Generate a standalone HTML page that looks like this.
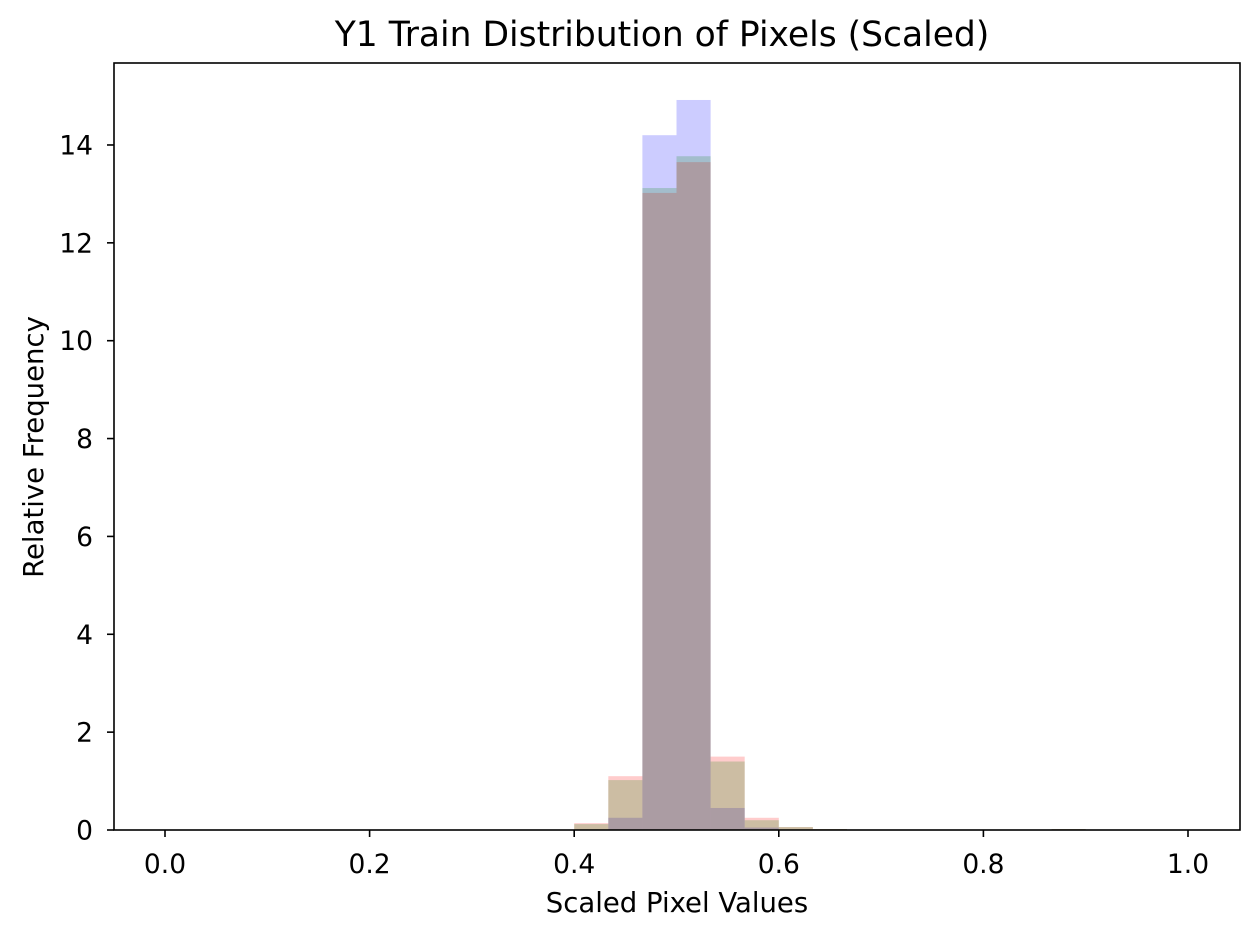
<!DOCTYPE html>
<html><head><meta charset="utf-8"><style>
body{margin:0;background:#fff;}
svg text{font-family:"DejaVu Sans","Liberation Sans",sans-serif;fill:#000;}
</style></head><body>
<svg id="chart" width="1260" height="938" xmlns="http://www.w3.org/2000/svg">
<rect width="1260" height="938" fill="#fff"/>
<g id="bars"></g>
<g id="axes"></g>
<text x="662" y="46" font-size="34.5" text-anchor="middle">Y1 Train Distribution of Pixels (Scaled)</text>
<text x="677" y="912" font-size="27.5" text-anchor="middle">Scaled Pixel Values</text>
<text x="43" y="447" font-size="27.5" text-anchor="middle" transform="rotate(-90 43 447)">Relative Frequency</text>
</svg>
<script>
const binCount = 30;
const blue  = [0,0,0,0,0,0,0,0,0,0,0,0,0,0.25,14.2,14.92,0.45,0.05,0,0,0,0,0,0,0,0,0,0,0,0];
const green = [0,0,0,0,0,0,0,0,0,0,0,0,0.12,1.02,13.12,13.77,1.4,0.2,0.06,0.02,0,0,0,0,0,0,0.02,0,0,0];
const red   = [0,0,0,0,0,0,0,0,0,0,0,0,0.14,1.1,13.02,13.65,1.5,0.25,0.06,0.02,0,0,0,0,0,0,0.02,0,0,0];
const xTicks = [0,0.2,0.4,0.6,0.8,1.0];
const xTickLabels = ["0.0","0.2","0.4","0.6","0.8","1.0"];
const yTicks = [0,2,4,6,8,10,12,14];
const yTickLabels = ["0","2","4","6","8","10","12","14"];

const L=114,R=1240,T=63,B=830;
const xS=v=>165+v*1023;
const yS=v=>830-v*48.93;
const NS="http://www.w3.org/2000/svg";
const bars=document.getElementById('bars'), axes=document.getElementById('axes');
function mk(tag,attrs,parent){const e=document.createElementNS(NS,tag);for(const k in attrs)e.setAttribute(k,attrs[k]);parent.appendChild(e);return e;}
const series=[[blue,'rgba(0,0,255,0.2)','blue'],[red,'rgba(255,0,0,0.2)','red'],[green,'rgba(0,128,0,0.2)','green']];
series.forEach(([vals,col,nm])=>{
  vals.forEach((v,i)=>{
    if(v<=0)return;
    const x0=xS(i/binCount),x1=xS((i+1)/binCount);
    const r=mk('rect',{x:x0,y:yS(v),width:x1-x0,height:yS(0)-yS(v),fill:col},bars);
    
    
  });
});
const frame=mk('rect',{x:L,y:T,width:R-L,height:B-T,fill:'none',stroke:'#000','stroke-width':1.6},axes);


xTicks.forEach((v,i)=>{
  const x=xS(v);
  const t=mk('line',{x1:x,x2:x,y1:B,y2:B+7,stroke:'#000','stroke-width':1.6},axes);
  
  
  const l=mk('text',{x:x,y:873,'font-size':26.5,'text-anchor':'middle'},axes);
  l.textContent=xTickLabels[i];
  
  
});
yTicks.forEach((v,i)=>{
  const y=yS(v);
  const t=mk('line',{x1:L-7,x2:L,y1:y,y2:y,stroke:'#000','stroke-width':1.6},axes);
  
  
  const l=mk('text',{x:93,y:y+9.5,'font-size':26.5,'text-anchor':'end'},axes);
  l.textContent=yTickLabels[i];
  
  
});
</script>
</body></html>
